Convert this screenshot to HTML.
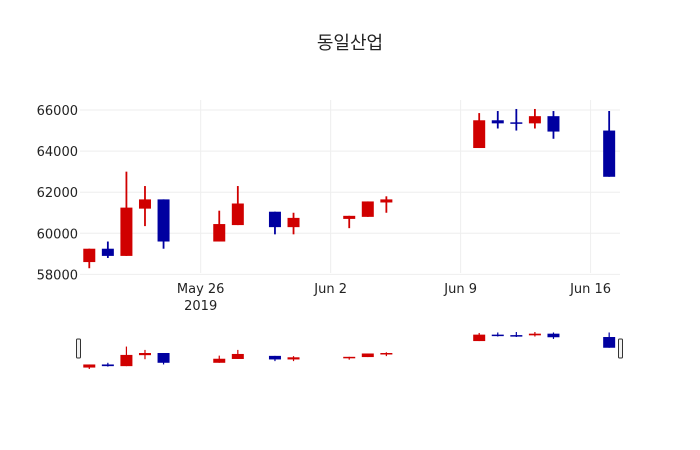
<!DOCTYPE html>
<html><head><meta charset="utf-8"><style>
body{margin:0;background:#fff;}
svg{display:block;font-family:"DejaVu Sans","Noto Sans CJK KR",sans-serif;}
</style></head><body>
<svg id="chart" width="700" height="450">
<text x="350" y="49" text-anchor="middle" font-size="18" fill="#222" font-family="'DejaVu Sans','Noto Sans CJK KR',sans-serif">동일산업</text>
<g id="grid"></g>
<g id="yaxis"></g>
<g id="xaxis"></g>
<g id="candles"></g>
<g id="slider"></g>
</svg>
<script>
const dates = ["2019-05-20","2019-05-21","2019-05-22","2019-05-23","2019-05-24","2019-05-27","2019-05-28","2019-05-30","2019-05-31","2019-06-03","2019-06-04","2019-06-05","2019-06-10","2019-06-11","2019-06-12","2019-06-13","2019-06-14","2019-06-17"];
const opens  = [58600,59250,58900,61200,61650,59600,60400,61050,60300,60700,60800,61500,64150,65500,65400,65350,65700,65000];
const highs  = [59250,59600,63000,62300,61650,61100,62300,61050,61000,60850,61550,61800,65850,65950,66050,66050,65950,65950];
const lows   = [58300,58800,58900,60350,59250,59600,60400,59950,59950,60250,60800,61000,64150,65100,65000,65100,64600,62750];
const closes = [59250,58900,61250,61650,59600,60450,61450,60300,60750,60850,61550,61650,65500,65350,65350,65700,64950,62750];
const yTicks = [58000,60000,62000,64000,66000];
const xTickDates = ["2019-05-26","2019-06-02","2019-06-09","2019-06-16"];
const xTickLabels = ["May 26","Jun 2","Jun 9","Jun 16"];

const NS="http://www.w3.org/2000/svg";
const DAY=86400000;
const x0=Date.parse("2019-05-19T12:00:00Z"), x1=Date.parse("2019-06-17T14:00:00Z");
const L=80,R=620;
function xs(d){return L+(Date.parse(d+"T00:00:00Z")-x0)/(x1-x0)*(R-L);}
function ys(v){return 110+(66000-v)*20.55/1000;}
const sTop=332,sBot=369;
const dmin=Math.min(...lows), dmax=Math.max(...highs);
function ss(v){return sTop+(dmax-v)/(dmax-dmin)*(sBot-sTop);}
function el(t,a,p){const e=document.createElementNS(NS,t);for(const k in a)e.setAttribute(k,a[k]);p.appendChild(e);return e;}
const grid=document.getElementById('grid'),ya=document.getElementById('yaxis'),xa=document.getElementById('xaxis'),cg=document.getElementById('candles'),sg=document.getElementById('slider');
yTicks.forEach(v=>{
  const l=el('line',{x1:L,x2:R,y1:ys(v),y2:ys(v),stroke:'#eee','stroke-width':1},grid);
  
  
  const t=el('text',{x:L-2,y:ys(v)+5,'text-anchor':'end','font-size':13,fill:'#222'},ya);
  t.textContent=v;
  
  
});
xTickDates.forEach((d,i)=>{
  const x=xs(d);
  const l=el('line',{x1:x,x2:x,y1:100,y2:273,stroke:'#eee','stroke-width':1},grid);
  
  
  const t=el('text',{x:x,y:293,'text-anchor':'middle','font-size':13,fill:'#222'},xa);
  t.textContent=xTickLabels[i];
  
  
  if(i==0){const t2=el('text',{x:x,y:310,'text-anchor':'middle','font-size':13,fill:'#222'},xa);t2.textContent="2019";
  
  }
});
const hw=6;
dates.forEach((d,i)=>{
  const up=closes[i]>=opens[i];const c=up?'#d00000':'#0000a0';
  const x=xs(d);
  [[ys,cg,1.8],[ss,sg,1.2]].forEach(([f,g,w])=>{
    const wk=el('line',{x1:x,x2:x,y1:f(highs[i]),y2:f(lows[i]),stroke:c,'stroke-width':w},g);
    
    
    const t=f(Math.max(opens[i],closes[i])),b=f(Math.min(opens[i],closes[i]));
    const r=el('rect',{x:x-hw,y:t,width:2*hw,height:Math.max(b-t,1.5),fill:c},g);
    
    
  });
});
[L-2,R].forEach(x=>{
  const h=el('rect',{x:x-1.5,y:339,width:4,height:19,rx:1,fill:'#f2f2f2',stroke:'#333','stroke-width':1},sg);
  
  
});
</script>
</body></html>
